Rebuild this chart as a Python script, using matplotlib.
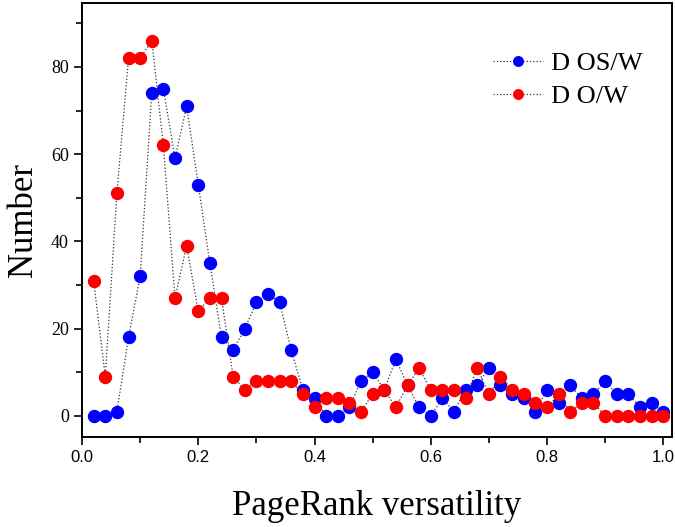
import matplotlib
matplotlib.use('Agg')
import matplotlib.pyplot as plt
from matplotlib.ticker import MultipleLocator

# PageRank versatility 구간 (0.02 간격)
x = [round(0.02 * i, 2) for i in range(1, 51)]

d_os_w = [0, 0, 1, 18, 32, 74, 75, 59, 71, 53,
          35, 18, 15, 20, 26, 28, 26, 15, 6, 4,
          0, 0, 2, 8, 10, 6, 13, 7, 2, 0,
          4, 1, 6, 7, 11, 7, 5, 4, 1, 6,
          3, 7, 4, 5, 8, 5, 5, 2, 3, 1]
d_o_w = [31, 9, 51, 82, 82, 86, 62, 27, 39, 24,
         27, 27, 9, 6, 8, 8, 8, 8, 5, 2,
         4, 4, 3, 1, 5, 6, 2, 7, 11, 6,
         6, 6, 4, 11, 5, 9, 6, 5, 3, 2,
         5, 1, 3, 3, 0, 0, 0, 0, 0, 0]

serif = ['Liberation Serif', 'DejaVu Serif']
sans = ['Liberation Sans', 'DejaVu Sans']

fig = plt.figure(figsize=(6.75, 5.27), dpi=100)
ax = fig.add_axes([0.1215, 0.171, 0.874, 0.823])

ax.plot(x, d_os_w, linestyle=':', color='#333333', linewidth=0.9,
        marker='o', markersize=8.6, markerfacecolor='#0000ff', markeredgecolor='#0000ff',
        label='D OS/W')
ax.plot(x, d_o_w, linestyle=':', color='#333333', linewidth=0.9,
        marker='o', markersize=8.6, markerfacecolor='#ff0000', markeredgecolor='#ff0000',
        label='D O/W')

ax.set_xlim(0, 1.015)
ax.set_ylim(-4.8, 94.6)
ax.xaxis.set_major_locator(MultipleLocator(0.2))
ax.xaxis.set_minor_locator(MultipleLocator(0.1))
ax.yaxis.set_major_locator(MultipleLocator(20))
ax.yaxis.set_minor_locator(MultipleLocator(10))
ax.tick_params(which='major', direction='out', length=6, width=1.2)
ax.tick_params(which='minor', direction='out', length=4, width=1.2)
for s in ax.spines.values():
    s.set_linewidth(1.4)

for t in ax.get_xticklabels():
    t.set_fontfamily(sans)
    t.set_fontsize(12)
for t in ax.get_yticklabels():
    t.set_fontfamily(serif)
    t.set_fontsize(13)

ax.set_xlabel('PageRank versatility', fontsize=25, family=serif, labelpad=18)
ax.set_ylabel('Number', fontsize=25, family=serif, labelpad=8)

leg = ax.legend(loc='upper left', bbox_to_anchor=(0.697, 0.888), frameon=False,
                prop={'family': serif, 'size': 19}, markerscale=0.8,
                borderpad=0, borderaxespad=0,
                handlelength=1.9, handletextpad=0.3, labelspacing=0.35)

fig.savefig('out.png', dpi=100)
